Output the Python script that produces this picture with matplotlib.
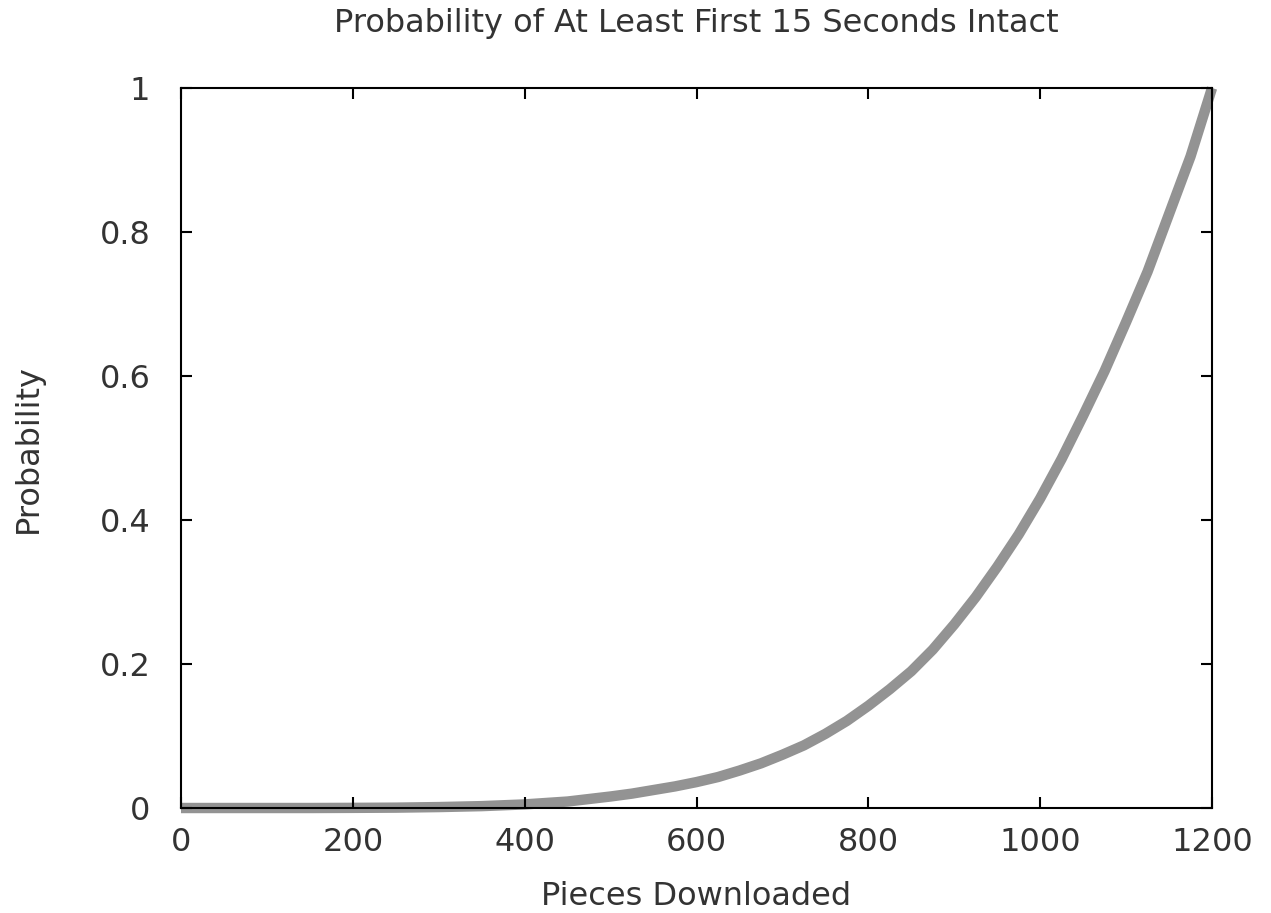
import numpy as np
import matplotlib.pyplot as plt

# pieces downloaded vs probability
pieces = [0, 50, 100, 150, 200, 250, 300, 350, 400, 450, 500, 525, 550, 575,
          600, 625, 650, 675, 700, 725, 750, 775, 800, 825, 850, 875, 900,
          925, 950, 975, 1000, 1025, 1050, 1075, 1100, 1125, 1150, 1175, 1200]
prob = [0.0, 0.0, 0.0, 0.0, 0.0002, 0.0005, 0.0013, 0.0026, 0.005, 0.009,
        0.016, 0.020, 0.025, 0.030, 0.036, 0.043, 0.052, 0.062, 0.074, 0.087,
        0.103, 0.121, 0.142, 0.165, 0.19, 0.22, 0.255, 0.293, 0.335, 0.38,
        0.43, 0.485, 0.545, 0.607, 0.675, 0.745, 0.825, 0.905, 1.0]

xticks = [0, 200, 400, 600, 800, 1000, 1200]
yticks = [0, 0.2, 0.4, 0.6, 0.8, 1]
ytick_labels = ['0', '0.2', '0.4', '0.6', '0.8', '1']

fig = plt.figure(figsize=(12.71, 9.13), dpi=100)
ax = fig.add_axes([0.1424, 0.115, 0.8112, 0.7886])

ax.plot(pieces, prob, '-', color='#939393', lw=7.5, solid_capstyle='butt',
        solid_joinstyle='round', clip_on=False, zorder=1)

ax.set_xlim(0, 1200)
ax.set_ylim(0, 1)
ax.set_xticks(xticks)
ax.set_yticks(yticks)
ax.set_yticklabels(ytick_labels)
ax.tick_params(axis='both', direction='in', length=8, width=1.5,
               top=True, right=True, labelsize=23, colors='black')
ax.tick_params(axis='x', pad=14, labelcolor='#333333')
ax.tick_params(axis='y', pad=22, labelcolor='#333333')
for s in ax.spines.values():
    s.set_linewidth(1.5)

ax.set_title('Probability of At Least First 15 Seconds Intact', fontsize=23,
             color='#333333', pad=40)
ax.set_xlabel('Pieces Downloaded', fontsize=23, color='#333333', labelpad=16)
ax.set_ylabel('Probability', fontsize=23, color='#333333', labelpad=40)

plt.savefig('out.png')
